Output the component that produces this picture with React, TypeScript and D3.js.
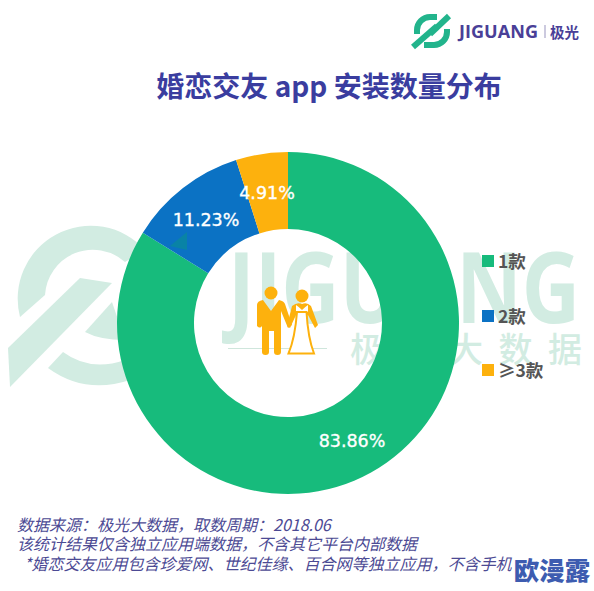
import React from "react";
import * as d3 from "d3";

const categories = ["1款", "2款", "≥3款"];
const values = [83.86, 11.23, 4.91];
const valueLabels = ["83.86%", "11.23%", "4.91%"];
const colors = ["#17bb7c", "#0b72c4", "#fdb10d"];
const titleText = "婚恋交友 app 安装数量分布";
const footnotes = [
  "数据来源：极光大数据，取数周期：2018.06",
  "该统计结果仅含独立应用端数据，不含其它平台内部数据",
  " *婚恋交友应用包含珍爱网、世纪佳缘、百合网等独立应用，不含手机",
];
const cx = 288, cy = 323, R = 171, r = 94;
const cjk = "'Noto Sans CJK SC', 'Noto Sans', sans-serif";
const wm = "#d2ece2";

export default function App() {
  const pie = d3.pie<number>().sort(null).startAngle(0).endAngle(2 * Math.PI);
  const arcs = pie(values);
  const arc = d3.arc<d3.PieArcDatum<number>>().innerRadius(r).outerRadius(R);
  const labelPos: [number, number][] = [
    [352, 441],
    [206, 220],
    [267, 193],
  ];
  const legendY = [261, 316, 370];
  return (
    <svg width={594} height={591} style={{ position: "absolute", left: 0, top: 0, background: "#fff" }}>
      {/* watermark */}
      <g fill={wm}>
        <path d="M20 317 A73 73 0 0 1 145 250 L125 262 A48 48 0 0 0 45 295 Z" />
        <path d="M8 348 L80 278 L112 283 L10 387 Z" />
        <path d="M85 332 L112 302 L125 340 Q100 340 85 332 Z" />
        <path d="M48 368 L63 352 Q90 372 125 360 L130 380 Q85 395 48 368 Z" />
        <text x={228} y={323} fontFamily="'Open Sans', sans-serif" fontWeight={700} fontSize={98} textLength={352} lengthAdjust="spacingAndGlyphs">JIGUANG</text>
        <text x={350} y={362} fontFamily={cjk} fontSize={34} fontWeight={500} textLength={232}>极光大数据</text>
      </g>
      {/* title */}
      <text x={329} y={97} textAnchor="middle" fontFamily={cjk} fontWeight={700} fontSize={28} fill="#3a3d9f">{titleText}</text>
      {/* logo */}
      <g fill="none" stroke="#22b48c" strokeWidth={6}>
        <path d="M417 34 L417 30 A13 13 0 0 1 430 17 L437 17" />
        <path d="M449 16 L430 34" />
        <path d="M447 29 L447 32 A13 13 0 0 1 434 45 L424 45" />
        <path d="M413 47 L437 26" />
      </g>
      <text x={459} y={38} fontFamily="'Open Sans', sans-serif" fontWeight={700} fontSize={18} fill="#4a3f97" textLength={79} lengthAdjust="spacingAndGlyphs">JIGUANG</text>
      <rect x={544.5} y={25} width={1} height={13} fill="#9a96c0" />
      <text x={550} y={37.5} fontFamily={cjk} fontWeight={700} fontSize={14.5} fill="#4a3f97">极光</text>
      {/* donut */}
      <g transform={`translate(${cx},${cy})`}>
        {arcs.map((a, i) => (
          <path key={categories[i]} d={arc(a) as string} fill={colors[i]} />
        ))}
      </g>
      <path d="M170 246 L187 232 L187 250 Z" fill="#0a8a9c" opacity={0.75} />
      {arcs.map((a, i) => (
        <text key={valueLabels[i]} x={labelPos[i][0]} y={labelPos[i][1] + 6} textAnchor="middle" fontFamily="'DejaVu Sans', sans-serif" fontSize={17.5} fill="#fff" stroke="#fff" strokeWidth={0.35}>{valueLabels[i]}</text>
      ))}
      {/* couple icon */}
      <rect x={228} y={348} width={99} height={1} fill="#cfe6dc" />
      <g fill="#fdb10d">
        <circle cx={271} cy={293} r={6.5} />
        <path d="M257 305 Q257 301 263 300 L271 311 L279 300 Q284 301 285 304 L292 325 L288 328 L281 311 L281 352 Q281 355 277.5 355 Q274 355 274 352 L274 331 L269 331 L269 352 Q269 355 265.5 355 Q262 355 262 352 L262 310 L262 326 Q260 329 257 326 Z" />
        <circle cx={302} cy={296} r={6.5} />
        <path d="M292 306 Q297 302 302 304 Q307 302 311 306 L318 325 L315 328 L308 315 L296 315 L290 328 L287 326 Z" />
        <path d="M296 305 Q299 307 302 310 Q305 307 308 305 L308 312 L296 312 Z" fill="#fff" />
        <path d="M297 312 Q295 338 288.5 353.5 L314 353.5 Q308 338 306.5 312 Z" fill="#fff" stroke="#fdb10d" strokeWidth={2} />
      </g>
      {/* legend */}
      {categories.map((c, i) => (
        <g key={c}>
          <rect x={482} y={legendY[i] - 6} width={12} height={12} fill={colors[i]} />
          <text x={498} y={legendY[i] + 6.5} fontFamily={cjk} fontWeight={700} fontSize={17.5} fill="#555">{c}</text>
        </g>
      ))}
      {/* footnotes */}
      <g fontFamily={cjk} fontStyle="italic" fontSize={16} fill="#4c4a94">
        <text x={17} y={531}>{footnotes[0]}</text>
        <text x={17} y={550}>{footnotes[1]}</text>
        <text x={24} y={570}>{footnotes[2]}</text>
      </g>
      <text x={552} y={580} textAnchor="middle" fontFamily={cjk} fontWeight={900} fontSize={25.5} fill="#3d5cb0" stroke="#fff" strokeWidth={3} paintOrder="stroke">欧漫露</text>
    </svg>
  );
}
